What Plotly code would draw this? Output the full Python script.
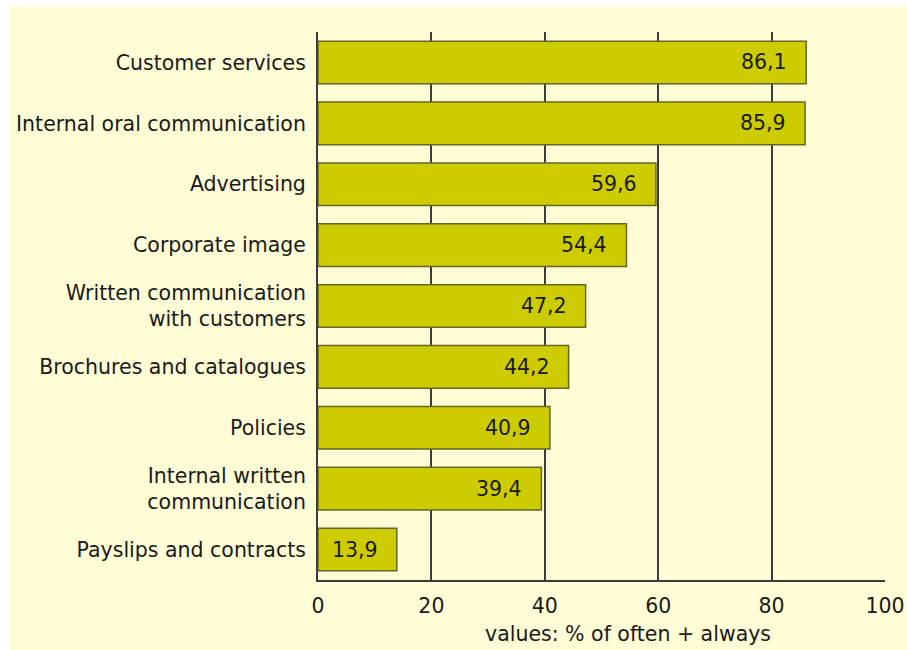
import plotly.graph_objects as go

# Survey results: share of respondents answering "often" or "always"
categories = [
    "Customer services",
    "Internal oral communication",
    "Advertising",
    "Corporate image",
    "Written communication<br>with customers",
    "Brochures and catalogues",
    "Policies",
    "Internal written<br>communication",
    "Payslips and contracts",
]
values = [86.1, 85.9, 59.6, 54.4, 47.2, 44.2, 40.9, 39.4, 13.9]
value_labels = ["86,1", "85,9", "59,6", "54,4", "47,2", "44,2", "40,9", "39,4", "13,9"]
x_ticks = [0, 20, 40, 60, 80, 100]
x_title = "values: % of often + always"

BG = "#FEFDD6"
BAR = "#CCCC00"
BAR_EDGE = "#66662A"
GRID = "#3C3C3C"
TEXT = "#1A1A1A"
FONT = "DejaVu Sans"
FS = 20.5

fig = go.Figure()
fig.add_trace(go.Bar(
    x=values,
    y=categories,
    orientation="h",
    width=0.7,
    marker=dict(color=BAR, line=dict(color=BAR_EDGE, width=1.5)),
    hoverinfo="skip",
))

# value labels placed inside the end of each bar
for cat, v, lab in zip(categories, values, value_labels):
    fig.add_annotation(
        x=v, y=cat, xref="x", yref="y",
        text=lab, showarrow=False,
        xanchor="right", yanchor="middle", xshift=-17,
        font=dict(family=FONT, size=FS, color=TEXT),
    )

# axis title under the tick labels
fig.add_annotation(
    x=0.547, y=-0.099, xref="paper", yref="paper",
    text=x_title, showarrow=False,
    xanchor="center", yanchor="middle",
    font=dict(family=FONT, size=FS, color=TEXT),
)

# thin white frame along the top and left edges of the yellow panel
fig.add_shape(
    type="rect", xref="paper", yref="paper",
    x0=-0.6, x1=1.1, y0=1.0475, y1=1.2,
    fillcolor="white", line=dict(width=0), layer="below",
)
fig.add_shape(
    type="rect", xref="paper", yref="paper",
    x0=-0.6, x1=-0.5432, y0=-0.2, y1=1.2,
    fillcolor="white", line=dict(width=0), layer="below",
)

fig.update_layout(
    width=907, height=650,
    margin=dict(l=318, r=22, t=32, b=70),
    paper_bgcolor=BG,
    plot_bgcolor="rgba(0,0,0,0)",
    showlegend=False,
    bargap=0.3,
    font=dict(family=FONT, size=FS, color=TEXT),
)
fig.update_xaxes(
    range=[0, 100], tickvals=x_ticks, ticktext=[str(t) for t in x_ticks],
    showgrid=True, gridcolor=GRID, gridwidth=2,
    showline=True, linecolor=GRID, linewidth=2,
    zeroline=False, ticks="", ticklabelstandoff=6, automargin=False,
    tickfont=dict(family=FONT, size=FS, color=TEXT),
)
fig.update_yaxes(
    autorange="reversed", automargin=False,
    showgrid=False, showline=True, linecolor=GRID, linewidth=2,
    ticks="", ticklabelstandoff=6,
    tickfont=dict(family=FONT, size=FS, color=TEXT),
)

fig.write_html("out.html")
